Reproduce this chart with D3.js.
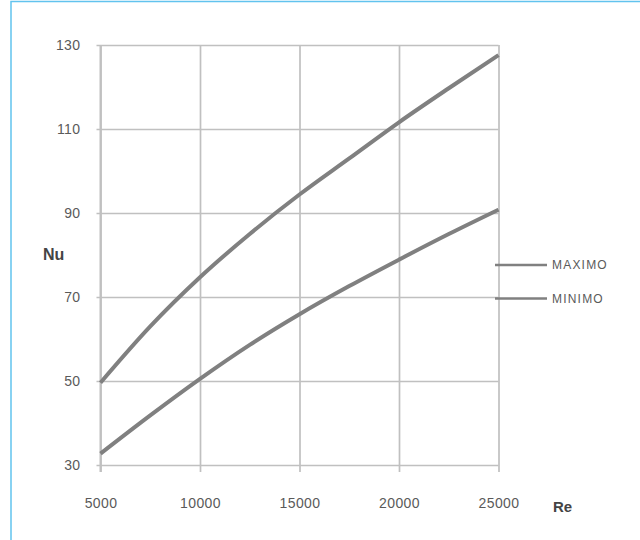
<!DOCTYPE html>
<html>
<head>
<meta charset="utf-8">
<script src="https://cdn.jsdelivr.net/npm/d3@7"></script>
<style>
  html, body { margin: 0; padding: 0; background: #ffffff; }
  svg { display: block; }
</style>
</head>
<body>
<svg id="chart" width="640" height="540"></svg>
<script>
// ---- data ----
const reValues = [5000, 7500, 10000, 12500, 15000, 17500, 20000, 22500, 25000];
const maximo   = [49.6, 63.0, 74.7, 85.0, 94.4, 103.0, 111.6, 119.7, 127.6];
const minimo   = [32.7, 41.8, 50.5, 58.6, 65.9, 72.6, 78.9, 85.0, 90.8];
const xTicks = [5000, 10000, 15000, 20000, 25000];
const yTicks = [30, 50, 70, 90, 110, 130];
const seriesNames = ["MAXIMO", "MINIMO"];
const xTitle = "Re";
const yTitle = "Nu";

// ---- layout ----
const svg = d3.select("#chart");
const pLeft = 100.5, pRight = 498.5, pTop = 45, pBottom = 465;
const x = d3.scaleLinear().domain([5000, 25000]).range([pLeft, pRight]);
const y = d3.scaleLinear().domain([30, 130]).range([pBottom, pTop]);
const gridColor = "#c0c0c0";
const lineColor = "#808080";
const textColor = "#5a5a5a";

// frame
svg.append("rect")
  .attr("x", 11).attr("y", 1.5).attr("width", 700).attr("height", 600)
  .attr("fill", "none").attr("stroke", "#62c3ee").attr("stroke-width", 1.5);

// y axis with horizontal gridlines
const yAxis = svg.append("g")
  .attr("transform", `translate(${pLeft},0)`)
  .call(d3.axisLeft(y).tickValues(yTicks).tickSize(-(pRight - pLeft)).tickSizeOuter(0).tickPadding(20));
yAxis.select(".domain").remove();
yAxis.selectAll(".tick line")
  .attr("x1", -4).attr("x2", pRight - pLeft)
  .attr("stroke", gridColor).attr("stroke-width", 1.7);
yAxis.selectAll(".tick text")
  .attr("x", -20)
  .attr("fill", textColor)
  .style("font-family", "'Liberation Sans', Arial, sans-serif")
  .style("font-size", "14px")
  .style("letter-spacing", "0.4px");

// x axis with vertical gridlines
const xAxis = svg.append("g")
  .attr("transform", `translate(0,${pBottom})`)
  .call(d3.axisBottom(x).tickValues(xTicks).tickFormat(d3.format("d")).tickSize(-(pBottom - pTop)).tickSizeOuter(0));
xAxis.select(".domain").remove();
xAxis.selectAll(".tick line")
  .attr("y1", 7).attr("y2", -(pBottom - pTop))
  .attr("stroke", gridColor).attr("stroke-width", 1.7);
xAxis.selectAll(".tick text")
  .attr("y", 43).attr("dy", "0")
  .attr("fill", textColor)
  .style("font-family", "'Liberation Sans', Arial, sans-serif")
  .style("font-size", "14px")
  .style("letter-spacing", "0.4px");

// left axis line
svg.append("line")
  .attr("x1", pLeft).attr("x2", pLeft).attr("y1", pTop).attr("y2", pBottom + 7)
  .attr("stroke", gridColor).attr("stroke-width", 2);

// axis titles
svg.append("text").text(yTitle)
  .attr("x", 43).attr("y", 260)
  .attr("fill", "#444").style("font-family", "'Liberation Sans', Arial, sans-serif")
  .style("font-size", "16px").style("font-weight", "bold");
svg.append("text").text(xTitle)
  .attr("x", 553).attr("y", 512)
  .attr("fill", "#444").style("font-family", "'Liberation Sans', Arial, sans-serif")
  .style("font-size", "15px").style("font-weight", "bold");

// curves
const line = d3.line()
  .x(d => x(d[0])).y(d => y(d[1]))
  .curve(d3.curveMonotoneX);
[maximo, minimo].forEach(vals => {
  svg.append("path")
    .datum(reValues.map((r, i) => [r, vals[i]]))
    .attr("d", line)
    .attr("fill", "none")
    .attr("stroke", lineColor)
    .attr("stroke-width", 4)
    .attr("stroke-linecap", "butt");
});

// legend
const legendY = [265, 298.5];
seriesNames.forEach((name, i) => {
  svg.append("line")
    .attr("x1", 495).attr("x2", 547)
    .attr("y1", legendY[i]).attr("y2", legendY[i])
    .attr("stroke", lineColor).attr("stroke-width", 2.5);
  svg.append("text").text(name)
    .attr("x", 552).attr("y", legendY[i]).attr("dy", "0.36em")
    .attr("fill", textColor)
    .style("font-family", "'Liberation Sans', Arial, sans-serif")
    .style("font-size", "12px")
    .style("letter-spacing", "1.2px");
});
</script>
</body>
</html>
